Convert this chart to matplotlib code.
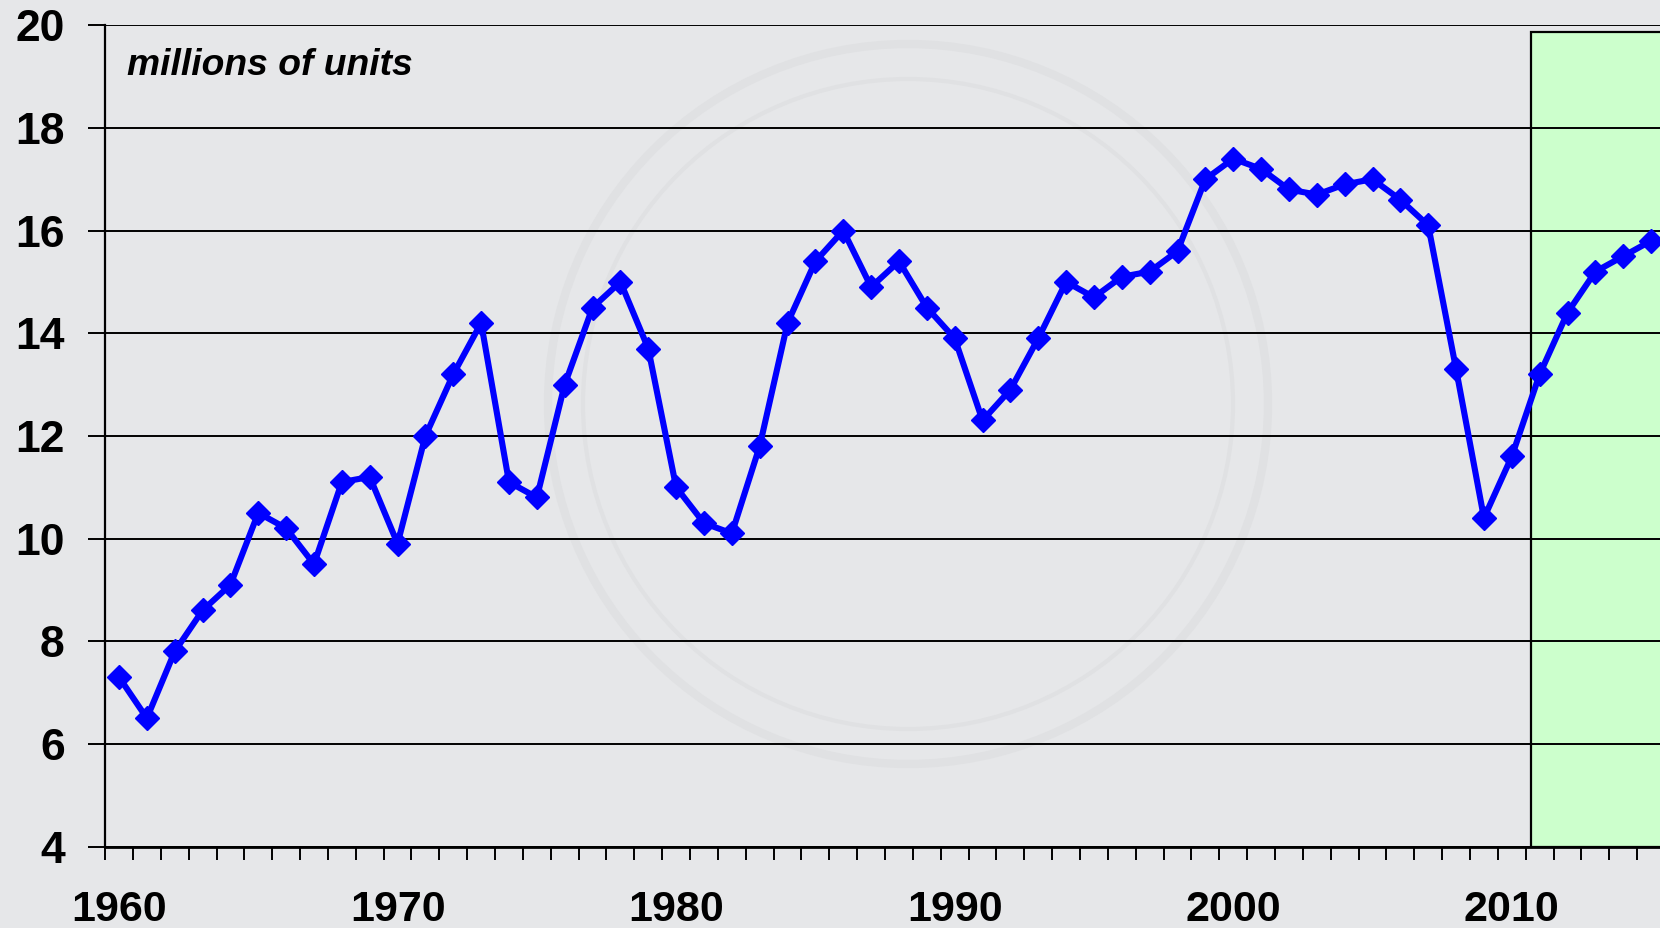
import matplotlib
matplotlib.use("Agg")
import matplotlib.pyplot as plt
from matplotlib.patches import Rectangle, Circle
from matplotlib.ticker import MultipleLocator, FixedLocator

# annual US light vehicle sales, millions of units
years = list(range(1960, 2016))
sales = [7.3, 6.5, 7.8, 8.6, 9.1, 10.5, 10.2, 9.5, 11.1, 11.2,
         9.9, 12.0, 13.2, 14.2, 11.1, 10.8, 13.0, 14.5, 15.0, 13.7,
         11.0, 10.3, 10.1, 11.8, 14.2, 15.4, 16.0, 14.9, 15.4, 14.5,
         13.9, 12.3, 12.9, 13.9, 15.0, 14.7, 15.1, 15.2, 15.6, 17.0,
         17.4, 17.2, 16.8, 16.7, 16.9, 17.0, 16.6, 16.1, 13.3, 10.4,
         11.6, 13.2, 14.4, 15.2, 15.5, 15.8]
forecast_start = 2010.68
decade_labels = [1960, 1970, 1980, 1990, 2000, 2010]
y_ticks = [4, 6, 8, 10, 12, 14, 16, 18, 20]

bg = "#e6e7e9"
plt.rcParams['font.family'] = ['Liberation Sans', 'DejaVu Sans']

fig = plt.figure(figsize=(16.6, 9.281), dpi=100, facecolor=bg)
ax = fig.add_axes([0.0633, 0.0878, 0.9367, 0.8849], facecolor="none")
ax.set_zorder(1)

# faint watermark rings behind the chart
for r, lw in [(3.6, 6), (3.25, 3)]:
    fig.add_artist(Circle((9.08, 5.24), r, transform=fig.dpi_scale_trans,
                          fill=False, ec="#e0e1e3", lw=lw, zorder=0))

# forecast shading
ax.add_patch(Rectangle((forecast_start, 4), 10, 19.87 - 4, fc="#ccffcc",
                       ec="black", lw=1.6, zorder=1))

ax.plot(years, sales, color="#0000ff", lw=4.4, marker="D", ms=12.5,
        mec="#0000ff", mfc="#0000ff", zorder=4, clip_on=False)

ax.set_xlim(1959.5, 2015.32)
ax.set_ylim(4, 20)

ax.yaxis.set_major_locator(FixedLocator(y_ticks))
ax.grid(axis="y", color="black", lw=1.4)
ax.set_axisbelow(False)
for gl in ax.get_ygridlines():
    gl.set_zorder(2)

ax.xaxis.set_major_locator(FixedLocator(decade_labels))
ax.xaxis.set_minor_locator(MultipleLocator(1, offset=0.5))
ax.tick_params(axis="x", which="major", length=0, pad=31, labelsize=31)
ax.tick_params(axis="x", which="minor", length=9.5, width=1.4, direction="out")
ax.tick_params(axis="y", length=12, width=1.4, pad=17, labelsize=32)
for lab in ax.get_xticklabels() + ax.get_yticklabels():
    lab.set_fontweight("bold")

for s in ["top", "right"]:
    ax.spines[s].set_visible(False)
ax.spines["left"].set_linewidth(1.6)
ax.spines["bottom"].set_linewidth(2.0)
ax.spines["left"].set_zorder(5)
ax.spines["bottom"].set_zorder(5)

ax.text(0.0138, 0.951, "millions of units", transform=ax.transAxes,
        fontsize=26.8, fontweight="bold", fontstyle="italic", va="center",
        ha="left")

fig.savefig("out.png", dpi=100, facecolor=bg)
